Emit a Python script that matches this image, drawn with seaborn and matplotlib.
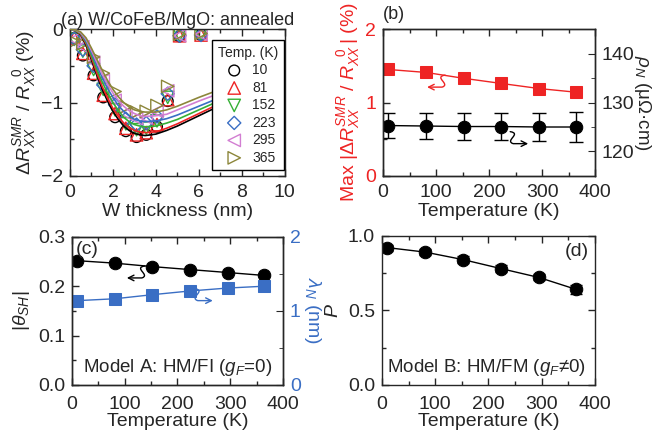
import numpy as np
import pandas as pd
import matplotlib
matplotlib.use("Agg")
import matplotlib.pyplot as plt
import matplotlib.transforms as mtransforms
from matplotlib.patches import FancyArrowPatch
from matplotlib.path import Path
from matplotlib.ticker import MultipleLocator
import seaborn as sns

# ---- data ----
temps = [10, 81, 152, 223, 295, 365]
temp_colors = ["#000000", "#ee2424", "#35b035", "#3a6ec4", "#d27ed2", "#8c863a"]
temp_markers = ["o", "^", "v", "D", "<", ">"]

# (a) measured points
w_thick = [0.2, 0.6, 1.1, 1.55, 2.1, 2.6, 3.1, 3.55, 4.05, 4.55, 5.1, 6.1]
smr_10 = [-0.12, -0.36, -0.63, -0.93, -1.20, -1.39, -1.47, -1.44, -1.33, -0.98, -0.10, -0.08]
smr_81 = [-0.12, -0.33, -0.60, -0.90, -1.15, -1.35, -1.44, -1.41, -1.30, -0.96, -0.09, -0.08]
smr_152 = [-0.14, -0.30, -0.55, -0.82, -1.10, -1.29, -1.37, -1.35, -1.25, -0.93, -0.08, -0.07]
smr_223 = [-0.13, -0.28, -0.50, -0.76, -1.03, -1.22, -1.30, -1.28, -1.19, -0.88, -0.09, -0.08]
smr_295 = [-0.14, -0.24, -0.45, -0.70, -0.97, -1.15, -1.22, -1.21, -1.12, -0.84, -0.09, -0.07]
smr_365 = [-0.17, -0.20, -0.38, -0.60, -0.85, -1.06, -1.13, -1.12, -1.04, -0.78, -0.07, -0.06]

# (a) fit curves
fit_t = [0, 0.25, 0.5, 0.75, 1, 1.25, 1.5, 1.75, 2, 2.25, 2.5, 2.75, 3, 3.25, 3.5,
         4, 4.5, 5, 6, 7, 8, 9, 10]
fit_10 = [0, -0.02, -0.08, -0.22, -0.42, -0.63, -0.82, -0.98, -1.12, -1.23, -1.32, -1.38,
          -1.42, -1.44, -1.45, -1.43, -1.38, -1.32, -1.18, -1.04, -0.92, -0.82, -0.74]
fit_81 = [0, -0.02, -0.07, -0.20, -0.39, -0.60, -0.78, -0.94, -1.08, -1.19, -1.28, -1.34,
          -1.38, -1.40, -1.41, -1.40, -1.35, -1.29, -1.15, -1.01, -0.90, -0.80, -0.72]
fit_152 = [0, -0.02, -0.06, -0.18, -0.36, -0.55, -0.72, -0.87, -1.00, -1.11, -1.20, -1.26,
           -1.30, -1.32, -1.33, -1.32, -1.28, -1.23, -1.10, -0.97, -0.86, -0.77, -0.69]
fit_223 = [0, -0.01, -0.05, -0.16, -0.32, -0.50, -0.66, -0.81, -0.93, -1.04, -1.12, -1.18,
           -1.23, -1.25, -1.26, -1.25, -1.22, -1.17, -1.05, -0.93, -0.83, -0.74, -0.67]
fit_295 = [0, -0.01, -0.05, -0.14, -0.29, -0.45, -0.61, -0.75, -0.87, -0.97, -1.05, -1.11,
           -1.15, -1.18, -1.19, -1.18, -1.16, -1.10, -0.98, -0.87, -0.78, -0.70, -0.63]
fit_365 = [0, -0.01, -0.04, -0.12, -0.26, -0.41, -0.56, -0.70, -0.82, -0.92, -1.00, -1.06,
           -1.10, -1.12, -1.13, -1.13, -1.10, -1.05, -0.93, -0.82, -0.73, -0.66, -0.60]

# (b)-(d) temperature dependences
temperature = [10, 81, 152, 223, 295, 365]
smr_max = [1.45, 1.41, 1.33, 1.26, 1.19, 1.14]
rho_n = [125.3, 125.2, 125.1, 125.1, 125.0, 125.0]
rho_err = [2.5, 2.7, 2.7, 2.8, 2.9, 3.0]
theta_sh = [0.252, 0.247, 0.240, 0.234, 0.228, 0.222]
lambda_n = [1.14, 1.165, 1.22, 1.27, 1.31, 1.335]
lambda_err = [0.05, 0.05, 0.05, 0.05, 0.05, 0.05]
pol = [0.92, 0.89, 0.84, 0.78, 0.72, 0.64]
pol_err = [0.02, 0.02, 0.025, 0.025, 0.02, 0.03]

RED = "#ee2424"
BLUE = "#3a6ec4"

sns.set_style("ticks")
plt.rcParams["font.family"] = ["Liberation Sans", "DejaVu Sans"]
plt.rcParams["mathtext.fontset"] = "custom"
plt.rcParams["mathtext.rm"] = "Liberation Sans"
plt.rcParams["mathtext.it"] = "Liberation Sans:italic"
plt.rcParams["font.size"] = 14
plt.rcParams["axes.linewidth"] = 1.0


def style_ticks(ax, right=True, xpad=6):
    ax.tick_params(which="both", direction="in", top=True, right=right, labelsize=14, pad=5)
    ax.tick_params(axis="x", which="both", pad=xpad)
    ax.tick_params(which="major", length=5, width=1)
    ax.tick_params(which="minor", length=3, width=1)


def squiggle(fig, ax, x, y, direction, color):
    # curly "this axis" arrow, drawn in pixel offsets around a data anchor
    X, Y = ax.transData.transform((x, y))
    s = direction
    offs = [(-s * 8, 12), (s * 4, 10), (-s * 14, 3), (-s * 5, 0), (s * 10, 0)]
    codes = [Path.MOVETO, Path.CURVE4, Path.CURVE4, Path.CURVE4, Path.LINETO]
    verts = [(X + dx, Y + dy) for dx, dy in offs]
    arr = FancyArrowPatch(path=Path(verts, codes), arrowstyle="->", mutation_scale=10,
                          color=color, lw=1.0, transform=mtransforms.IdentityTransform())
    fig.add_artist(arr)


fig = plt.figure(figsize=(6.57, 4.41), dpi=100)
ax_a = fig.add_axes([0.1065, 0.601, 0.327, 0.333])
ax_b = fig.add_axes([0.583, 0.601, 0.3227, 0.333])
ax_c = fig.add_axes([0.1096, 0.127, 0.321, 0.3356])
ax_d = fig.add_axes([0.5814, 0.127, 0.324, 0.3386])

# ---- (a) ----
fits = [fit_10, fit_81, fit_152, fit_223, fit_295, fit_365]
pts = [smr_10, smr_81, smr_152, smr_223, smr_295, smr_365]
for temp, col, mk, fit, p in zip(temps, temp_colors, temp_markers, fits, pts):
    sns.lineplot(x=fit_t, y=fit, ax=ax_a, color=col, lw=1.2, zorder=3)
    size = 60 if mk == "o" else (45 if mk == "D" else 80)
    sns.scatterplot(x=w_thick, y=p, ax=ax_a, marker=mk, s=size, facecolors="none",
                    edgecolor=col, linewidth=1.0, label=str(temp), zorder=2)
ax_a.set_xlim(0, 10)
ax_a.set_ylim(-2, 0)
ax_a.xaxis.set_major_locator(MultipleLocator(2))
ax_a.xaxis.set_minor_locator(MultipleLocator(1))
ax_a.yaxis.set_major_locator(MultipleLocator(1))
ax_a.yaxis.set_minor_locator(MultipleLocator(0.5))
ax_a.set_xlabel("W thickness (nm)", labelpad=1)
ax_a.set_ylabel(r"$\Delta R_{XX}^{SMR}$ / $R_{XX}^{\ \ 0}$ (%)", labelpad=2)
ax_a.set_title("(a) W/CoFeB/MgO: annealed", fontsize=13, pad=3)
leg = ax_a.legend(title="Temp. (K)", loc="upper right", bbox_to_anchor=(0.995, 0.925),
                  borderaxespad=0, fontsize=10, title_fontsize=10, fancybox=False,
                  edgecolor="black", framealpha=1, handletextpad=0.3, labelspacing=0.25,
                  borderpad=0.4, markerscale=1.0)
leg.get_frame().set_linewidth(1.0)
style_ticks(ax_a)

# ---- (b) ----
sns.lineplot(x=temperature, y=smr_max, ax=ax_b, color=RED, lw=1.0, marker="s",
             markersize=8, markeredgecolor=RED, markerfacecolor=RED)
ax_b.set_xlim(0, 400)
ax_b.set_ylim(0, 2)
ax_b.xaxis.set_major_locator(MultipleLocator(100))
ax_b.xaxis.set_minor_locator(MultipleLocator(50))
ax_b.yaxis.set_major_locator(MultipleLocator(1))
ax_b.yaxis.set_minor_locator(MultipleLocator(0.5))
ax_b.set_xlabel("Temperature (K)", labelpad=1)
ax_b.set_ylabel(r"Max |$\Delta R_{XX}^{SMR}$ / $R_{XX}^{\ \ 0}\,$| (%)", color=RED, labelpad=2)
style_ticks(ax_b, right=False)
ax_b.tick_params(axis="y", labelcolor=RED)
ax_b.text(0.0, 1.04, "(b)", transform=ax_b.transAxes, fontsize=13, va="bottom")

ax_b2 = ax_b.twinx()
ax_b2.errorbar(temperature, rho_n, yerr=rho_err, fmt="none", ecolor="black",
               elinewidth=1.0, capsize=5, capthick=1.0)
sns.lineplot(x=temperature, y=rho_n, ax=ax_b2, color="black", lw=1.0, marker="o",
             markersize=9, markeredgecolor="black")
ax_b2.set_ylim(115, 145)
ax_b2.yaxis.set_major_locator(MultipleLocator(10))
ax_b2.yaxis.set_minor_locator(MultipleLocator(5))
ax_b2.tick_params(which="both", direction="in", labelsize=14, pad=5)
ax_b2.tick_params(which="major", length=5)
ax_b2.tick_params(which="minor", length=3)
ax_b2.set_ylabel(r"$\rho_N$ (μΩ·cm)", rotation=270, labelpad=13, fontsize=13.5)
squiggle(fig, ax_b, 102, 1.21, -1, RED)
squiggle(fig, ax_b2, 255, 121.6, 1, "black")

# ---- (c) ----
sns.lineplot(x=temperature, y=theta_sh, ax=ax_c, color="black", lw=1.0, marker="o",
             markersize=9, markeredgecolor="black")
ax_c.set_xlim(0, 400)
ax_c.set_ylim(0, 0.3)
ax_c.xaxis.set_major_locator(MultipleLocator(100))
ax_c.xaxis.set_minor_locator(MultipleLocator(50))
ax_c.yaxis.set_major_locator(MultipleLocator(0.1))
ax_c.yaxis.set_minor_locator(MultipleLocator(0.05))
ax_c.set_xlabel("Temperature (K)", labelpad=0)
ax_c.set_ylabel(r"|$\theta_{SH}$|", labelpad=4)
style_ticks(ax_c, right=False, xpad=8)
ax_c.yaxis.set_major_formatter(lambda v, pos: f"{v:.1f}")
ax_c.text(0.02, 0.97, "(c)", transform=ax_c.transAxes, fontsize=14, va="top")
ax_c.text(0.5, 0.05, r"Model A: HM/FI ($g_F$=0)", transform=ax_c.transAxes,
          fontsize=13.5, ha="center", va="bottom")

ax_c2 = ax_c.twinx()
ax_c2.errorbar(temperature, lambda_n, yerr=lambda_err, fmt="none", ecolor=BLUE,
               elinewidth=1.0, capsize=4, capthick=1.0)
sns.lineplot(x=temperature, y=lambda_n, ax=ax_c2, color=BLUE, lw=1.0, marker="s",
             markersize=8, markeredgecolor=BLUE, markerfacecolor=BLUE)
ax_c2.set_ylim(0, 2)
ax_c2.yaxis.set_major_locator(MultipleLocator(1))
ax_c2.yaxis.set_minor_locator(MultipleLocator(0.5))
ax_c2.tick_params(which="both", direction="in", labelsize=14, labelcolor=BLUE, pad=5)
ax_c2.tick_params(which="major", length=5)
ax_c2.tick_params(which="minor", length=3)
ax_c2.set_ylabel(r"$\lambda_N$ (nm)", rotation=270, labelpad=16, color=BLUE)
squiggle(fig, ax_c, 123, 0.217, -1, "black")
squiggle(fig, ax_c2, 248, 1.14, 1, BLUE)

# ---- (d) ----
ax_d.errorbar(temperature, pol, yerr=pol_err, fmt="none", ecolor="black",
              elinewidth=1.0, capsize=4, capthick=1.0)
sns.lineplot(x=temperature, y=pol, ax=ax_d, color="black", lw=1.0, marker="o",
             markersize=9, markeredgecolor="black")
ax_d.set_xlim(0, 400)
ax_d.set_ylim(0, 1)
ax_d.xaxis.set_major_locator(MultipleLocator(100))
ax_d.xaxis.set_minor_locator(MultipleLocator(50))
ax_d.yaxis.set_major_locator(MultipleLocator(0.5))
ax_d.yaxis.set_minor_locator(MultipleLocator(0.25))
ax_d.set_xlabel("Temperature (K)", labelpad=0)
ax_d.set_ylabel(r"$P$", labelpad=4)
ax_d.yaxis.set_major_formatter(lambda v, pos: f"{v:.1f}")
style_ticks(ax_d, xpad=8)
ax_d.text(0.97, 0.95, "(d)", transform=ax_d.transAxes, fontsize=14, ha="right", va="top")
ax_d.text(0.96, 0.05, r"Model B: HM/FM ($g_F$≠0)", transform=ax_d.transAxes,
          fontsize=13.5, ha="right", va="bottom")

fig.savefig("out.png", dpi=100)
